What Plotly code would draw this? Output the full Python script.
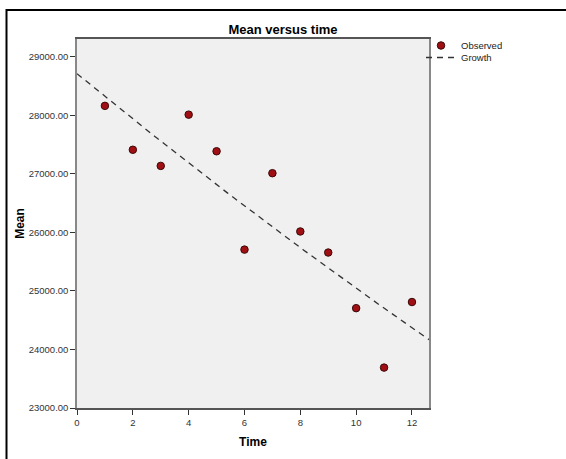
import numpy as np
import plotly.graph_objects as go

# ---- data ----
time_vals = [1, 2, 3, 4, 5, 6, 7, 8, 9, 10, 11, 12]
mean_vals = [28160, 27410, 27135, 28010, 27385, 25705, 27010, 26015, 25655, 24705, 23690, 24810]
y_tick_vals = [23000, 24000, 25000, 26000, 27000, 28000, 29000]
x_tick_vals = [0, 2, 4, 6, 8, 10, 12]
x_range = [0, 12.61]
y_range = [23000, 29302]

# Growth model fit: ln(y) = b0 + b1*t
b1, b0 = np.polyfit(np.array(time_vals, float), np.log(np.array(mean_vals, float)), 1)
t_fit = np.linspace(x_range[0], x_range[1], 200)
g_fit = np.exp(b0 + b1 * t_fit)

FONT = "Arial, Liberation Sans, sans-serif"

fig = go.Figure()
fig.add_trace(go.Scatter(
    x=time_vals, y=mean_vals, mode="markers", name="Observed",
    marker=dict(color="#A00F14", size=7.5, line=dict(color="#3a0a0a", width=1)),
    legend="legend", cliponaxis=False,
))
fig.add_trace(go.Scatter(
    x=t_fit, y=g_fit, mode="lines", name="Growth",
    line=dict(color="#333333", width=1.3, dash="6px,5px"),
    legend="legend2",
))

L, R, T, B = 77, 137, 39, 51
W, H = 566, 459
pw, ph = W - L - R, H - T - B

def px_x(px):
    return (px - L) / pw

def px_y(py):
    return (H - B - py) / ph

fig.update_layout(
    width=W, height=H,
    margin=dict(l=L, r=R, t=T, b=B, pad=0),
    paper_bgcolor="white",
    plot_bgcolor="#F0F0F0",
    font=dict(family=FONT, size=10, color="#222222"),
    title=dict(text="<b>Mean versus time</b>", x=0.5, xref="container",
               y=1 - 29 / H, yref="container", xanchor="center", yanchor="middle",
               font=dict(size=13, color="#000000", family=FONT)),
    showlegend=True,
    legend=dict(x=px_x(421), y=px_y(31), xanchor="left", yanchor="top",
                xref="paper", yref="paper", bgcolor="rgba(0,0,0,0)",
                font=dict(size=9.5, family=FONT, color="#222222"),
                itemwidth=30, borderwidth=0),
    legend2=dict(x=px_x(421), y=px_y(43), xanchor="left", yanchor="top",
                 xref="paper", yref="paper", bgcolor="rgba(0,0,0,0)",
                 font=dict(size=9.5, family=FONT, color="#222222"),
                 itemwidth=30, borderwidth=0),
    xaxis=dict(
        range=x_range, tickvals=x_tick_vals, showgrid=False, zeroline=False,
        showline=True, linecolor="#555555", linewidth=1.5, mirror=True,
        ticks="outside", ticklen=5, tickcolor="#333333", tickwidth=1,
        tickfont=dict(size=9.5, color="#333333", family=FONT),
        title=dict(text="<b>Time</b>", font=dict(size=12, color="#000000", family=FONT), standoff=10),
    ),
    yaxis=dict(
        range=y_range, tickvals=y_tick_vals, tickformat=".2f", showgrid=False, zeroline=False,
        showline=True, linecolor="#888888", linewidth=1.5, mirror=True,
        ticks="outside", ticklen=5, tickcolor="#333333", tickwidth=1,
        tickfont=dict(size=9.5, color="#333333", family=FONT),
        title=dict(text="<b>Mean</b>", font=dict(size=12, color="#000000", family=FONT), standoff=2),
    ),
    shapes=[dict(type="rect", xref="paper", yref="paper",
                 x0=px_x(6.5), x1=px_x(W + 20), y0=px_y(H + 20), y1=px_y(10),
                 line=dict(color="#000000", width=2), fillcolor="rgba(0,0,0,0)", layer="above")],
)

fig.write_html("out.html")
